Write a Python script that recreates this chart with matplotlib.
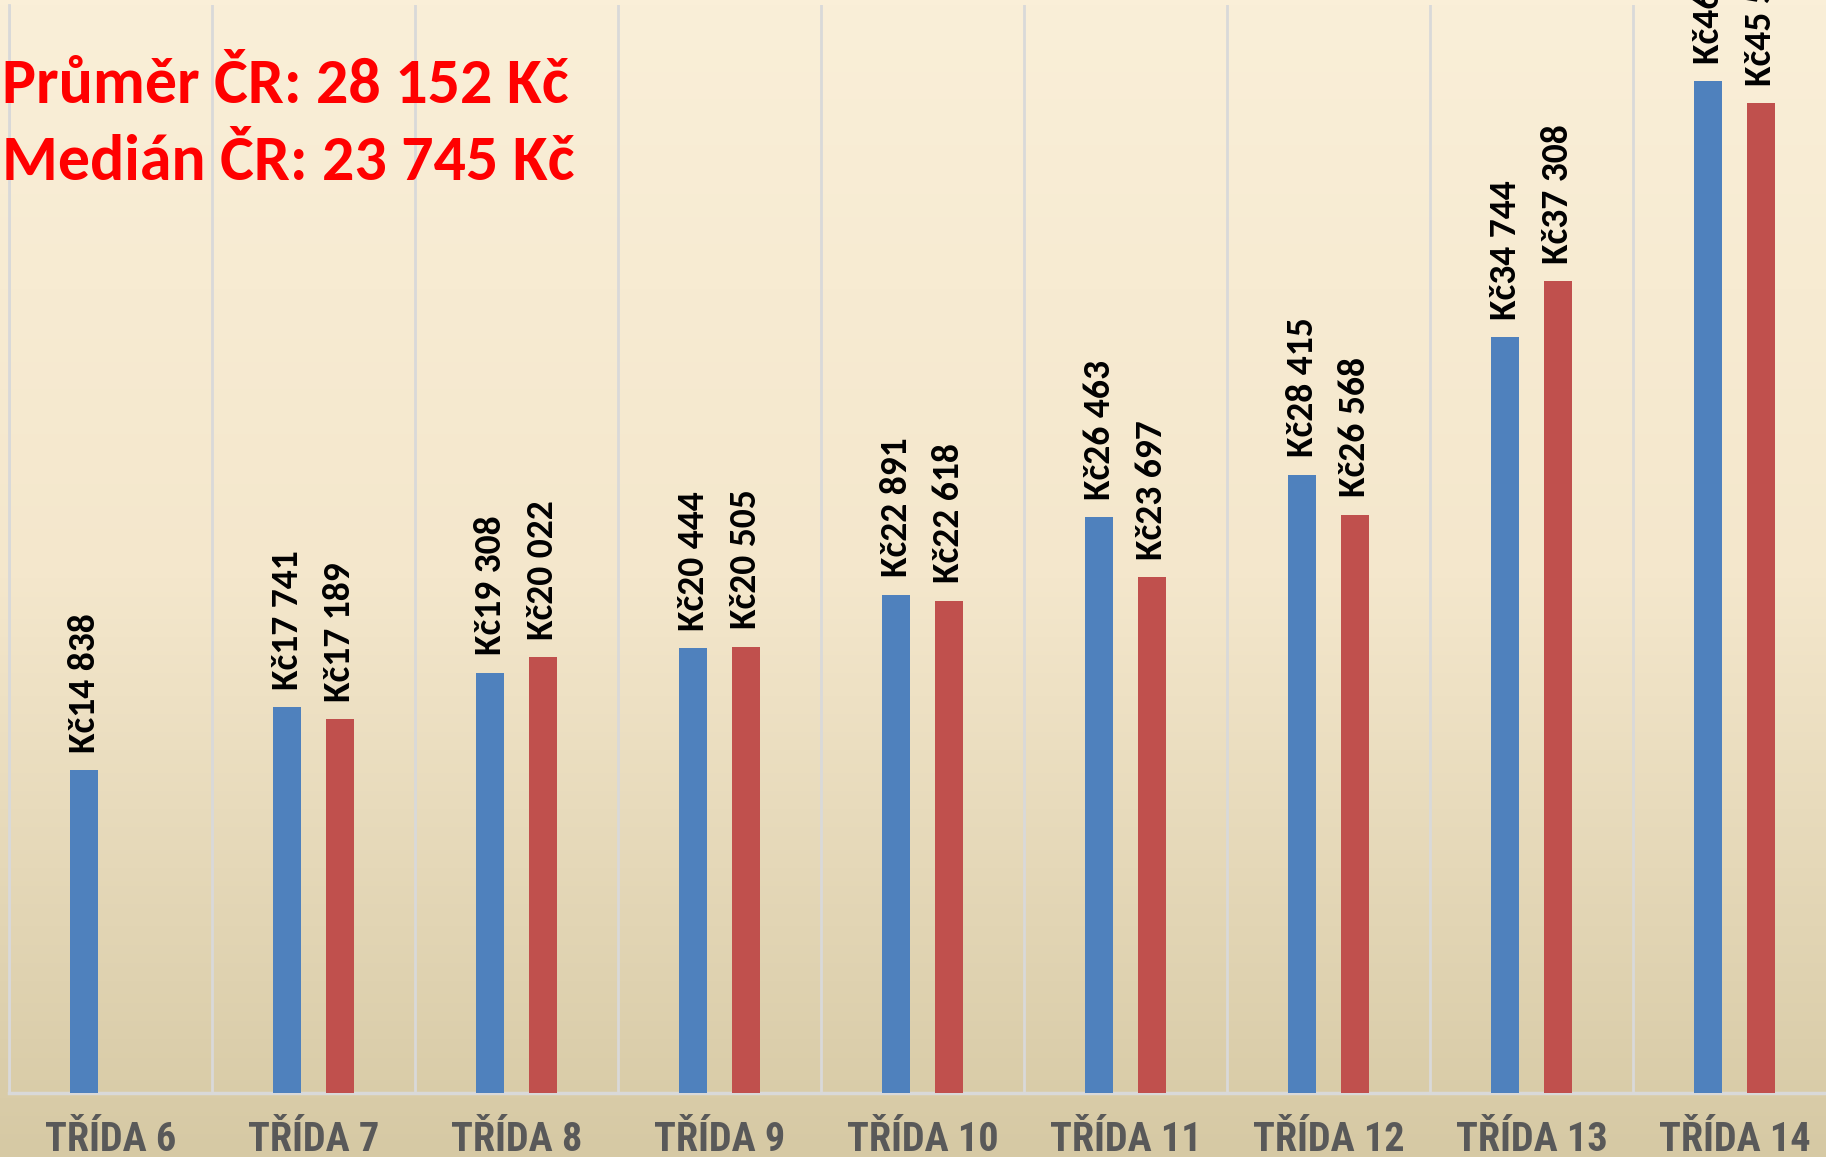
import numpy as np
import matplotlib
matplotlib.use('Agg')
import matplotlib.pyplot as plt
from matplotlib import font_manager
from matplotlib.colors import LinearSegmentedColormap

# data
categories = ['TŘÍDA 6', 'TŘÍDA 7', 'TŘÍDA 8', 'TŘÍDA 9', 'TŘÍDA 10',
              'TŘÍDA 11', 'TŘÍDA 12', 'TŘÍDA 13', 'TŘÍDA 14']
blue_values = [14838, 17741, 19308, 20444, 22891, 26463, 28415, 34744, 46490]
red_values = [None, 17189, 20022, 20505, 22618, 23697, 26568, 37308, 45500]
summary_lines = ['Průměr ČR: 28 152 Kč', 'Medián ČR: 23 745 Kč']

available = {f.name for f in font_manager.fontManager.ttflist}


def pick(*names):
    for n in names:
        if n in available:
            return n
    return 'DejaVu Sans'


calibri = pick('Carlito', 'Lato')
narrow = pick('Roboto Condensed', 'Archivo Narrow', 'PT Sans Narrow', 'Open Sans Condensed')
title_size = 46 if calibri == 'Carlito' else 40.5
value_size = 27 if calibri == 'Carlito' else 24


def fmt(v):
    return 'Kč' + f'{v:,}'.replace(',', ' ')


fig = plt.figure(figsize=(18.26, 11.57), dpi=100)

# background gradient over the whole figure
bg = fig.add_axes([0, 0, 1, 1], zorder=0)
cmap = LinearSegmentedColormap.from_list('bg', ['#FAEFD8', '#F4E7CC', '#D6C9A4'])
bg.imshow(np.linspace(0, 1, 256).reshape(-1, 1), aspect='auto', cmap=cmap,
          extent=[0, 1, 0, 1])
bg.axis('off')

ax = fig.add_axes([9 / 1826, 1 - 1093 / 1157, 1827 / 1826, 1088 / 1157], zorder=1)
ax.patch.set_alpha(0)

x = np.arange(len(categories))
w = 0.136
off = 0.13

ax.bar(x - off, blue_values, width=w, color='#4F81BD', zorder=3)
red_x = [xi + off for xi, v in zip(x, red_values) if v is not None]
red_y = [v for v in red_values if v is not None]
ax.bar(red_x, red_y, width=w, color='#C0504D', zorder=3)

for xi, v in zip(x - off, blue_values):
    ax.text(xi, v + 800, fmt(v), rotation=90, ha='center', va='bottom',
            fontsize=value_size, fontweight='bold', family=[calibri, 'DejaVu Sans'],
            color='black')
for xi, v in zip(red_x, red_y):
    ax.text(xi, v + 800, fmt(v), rotation=90, ha='center', va='bottom',
            fontsize=value_size, fontweight='bold', family=[calibri, 'DejaVu Sans'],
            color='black')

ax.set_xlim(-0.5, len(categories) - 0.5)
ax.set_ylim(0, 50000)
ax.set_yticks([])
ax.set_xticks(x)
ax.set_xticklabels(categories, fontsize=29, fontweight='bold', color='#595959',
                   family=[narrow, 'DejaVu Sans'])
for lbl in ax.get_xticklabels():
    lbl.set_va('baseline')
ax.set_xticks(np.arange(-0.5, len(categories)), minor=True)
ax.tick_params(axis='x', which='both', length=0, pad=42)
ax.grid(which='minor', axis='x', color='#D9D9D9', linewidth=2, zorder=0)

for side in ['top', 'right']:
    ax.spines[side].set_visible(False)
ax.spines['left'].set_color('#D9D9D9')
ax.spines['left'].set_linewidth(2)
ax.spines['bottom'].set_color('#D9D9D9')
ax.spines['bottom'].set_linewidth(2.5)

fig.text(0.001, 1 - 103 / 1157, summary_lines[0], color='#FF0000', fontsize=title_size,
         fontweight='bold', family=[calibri, 'DejaVu Sans'], va='baseline', zorder=5)
fig.text(0.001, 1 - 180 / 1157, summary_lines[1], color='#FF0000', fontsize=title_size,
         fontweight='bold', family=[calibri, 'DejaVu Sans'], va='baseline', zorder=5)

fig.savefig('out.png', dpi=100)
